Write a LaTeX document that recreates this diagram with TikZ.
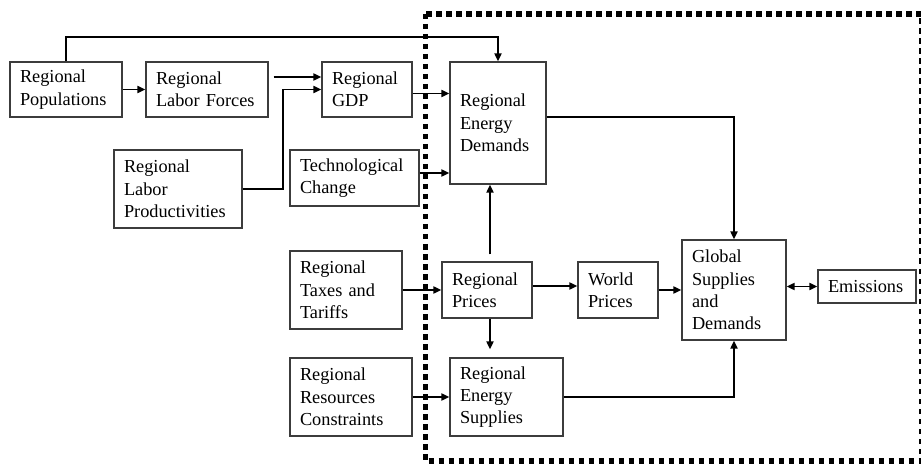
\documentclass[tikz,border=0pt]{standalone}
\usepackage{fontspec}
\setmainfont{Liberation Serif}
\usetikzlibrary{positioning}
\usetikzlibrary{arrows.meta}
\definecolor{boxgray}{RGB}{60,60,60}

\begin{document}
\begin{tikzpicture}[x=1pt,y=-1pt,
font=\fontsize{18.3}{22.3}\selectfont,
blk/.style={draw=boxgray,line width=1.2pt,shape=rectangle,align=left,inner xsep=10pt,inner ysep=0pt},
link/.style={line width=1.8pt,-{Triangle[length=8pt,width=7pt]}},
frame/.style={line width=5.5pt,dash pattern=on 5.5pt off 4.5pt}]
\useasboundingbox (0,0) rectangle (921,465);
\path
(66,89.5) node [blk,text width=92pt,minimum height=55pt](pop) {Regional\\Populations}
(207,89.5) node [blk,text width=102pt,minimum height=55pt](lab) {Regional\\Labor Forces}
(367,89.5) node [blk,text width=70pt,minimum height=55pt](gdp) {Regional\\GDP}
(178,189) node [blk,text width=108pt,minimum height=78pt](prod) {Regional\\Labor\\Productivities}
(354.5,178) node [blk,text width=109pt,minimum height=56pt](tech) {Technological\\Change}
(498,123) node [blk,text width=76pt,minimum height=122pt](dem) {Regional\\Energy\\Demands}
(346,290) node [blk,text width=92pt,minimum height=78pt](tax) {Regional\\Taxes and\\Tariffs}
(351,397) node [blk,text width=102pt,minimum height=78pt](res) {Regional\\Resources\\Constraints}
(487,290) node [blk,text width=70pt,minimum height=56pt](pri) {Regional\\Prices}
(506.5,397) node [blk,text width=93pt,minimum height=78pt](sup) {Regional\\Energy\\Supplies}
(618,290) node [blk,text width=60pt,minimum height=56pt](wp) {World\\Prices}
(734,290) node [blk,text width=84pt,minimum height=100pt](glob) {Global\\Supplies\\and\\Demands}
(867,286.5) node [blk,text width=78pt,minimum height=33pt](emi) {Emissions};

% outer dotted frame
\draw [frame] (425.5,14) rectangle (921.5,461);

\draw [link](pop.north) --++(0,-24) -| (dem.north);
\draw [link](pop.east) --(lab.west);
\draw [link]([xshift=5pt,yshift=12.5pt]lab.east) --([yshift=12.5pt]gdp.west);
\draw [link](prod.east) --++(40,0) |- (gdp.west);
\draw [link]([yshift=-4pt]gdp.east) --([yshift=-4pt]gdp.east -| dem.west);
\draw [link]([yshift=5pt]tech.east) --([yshift=5pt]tech.east -| dem.west);
\draw [link]([yshift=6pt]dem.east) -| (glob.north);
\draw [link,shorten <=7pt]([xshift=3pt]pri.north) --([xshift=3pt]pri.north |- dem.south);
\draw [link](tax.east) --(pri.west);
\draw [link]([yshift=4pt]pri.east) --([yshift=4pt]wp.west);
\draw [link,shorten >=8pt]([xshift=3pt]pri.south) --([xshift=3pt]pri.south |- sup.north);
\draw [link](wp.east) --(glob.west);
\draw [link](res.east) --(sup.west);
\draw [link](sup.east) -| (glob.south);
\draw [link,{Triangle[length=8pt,width=7pt]}-{Triangle[length=8pt,width=7pt]}](emi.west -| glob.east) --(emi.west);

\end{tikzpicture}
\end{document}
